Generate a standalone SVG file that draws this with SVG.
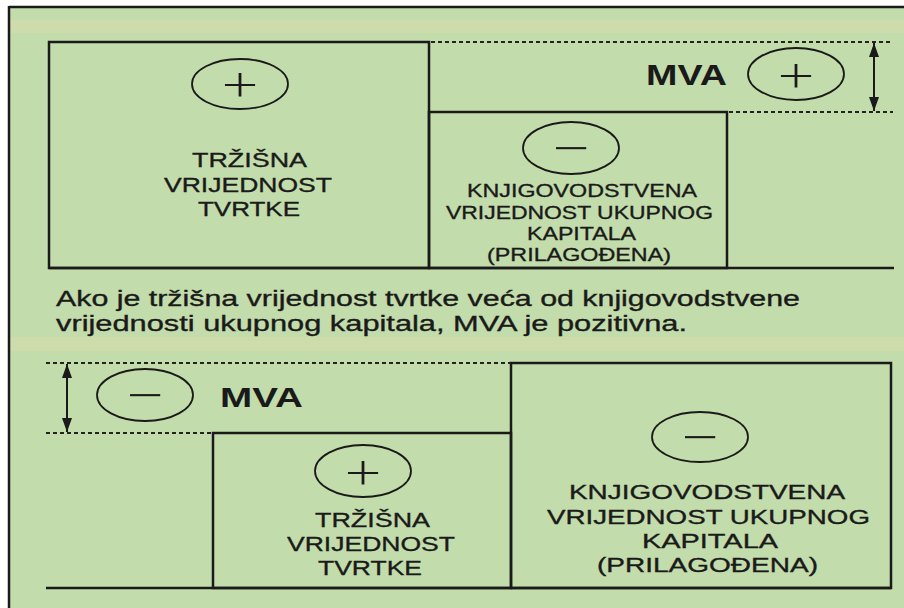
<svg xmlns="http://www.w3.org/2000/svg" width="904" height="608" viewBox="0 0 904 608">
<defs>
<marker id="ah" viewBox="0 0 14 10" refX="14" refY="5" markerWidth="7" markerHeight="5" markerUnits="strokeWidth" orient="auto-start-reverse">
<path d="M0,0 L14,5 L0,10 Z" fill="#1a1a1a"/>
</marker>
</defs>
<style>
.box{fill:none;stroke:#1a1a1a;stroke-width:2.5}
.base{stroke:#1a1a1a;stroke-width:2.5}
.dot{stroke:#222;stroke-width:2;stroke-dasharray:4 3}
.arr{stroke:#1a1a1a;stroke-width:2;marker-start:url(#ah);marker-end:url(#ah)}
.ell{fill:none;stroke:#1a1a1a;stroke-width:1.8}
.lbl{font-family:"Liberation Sans",Arial,sans-serif;fill:#1a1a1a;stroke:#1a1a1a;stroke-width:0.35}
.sign{font-family:"Open Sans","Noto Sans",sans-serif;font-weight:300;font-size:50px;fill:#1a1a1a;text-anchor:middle}
.mva{font-family:"Liberation Sans",Arial,sans-serif;font-weight:bold;fill:#1a1a1a}
</style>
<rect x="9" y="7" width="895" height="601" fill="#c3dcab"/>
<rect x="10" y="20" width="894" height="13" fill="#cedbaa"/>
<rect x="10" y="337" width="894" height="14" fill="#cedbaa"/>
<line x1="9" y1="7" x2="904" y2="7" stroke="#1a1a1a" stroke-width="2.5"/>
<line x1="9" y1="6" x2="9" y2="608" stroke="#1a1a1a" stroke-width="2.5"/>

<g id="connectors">
<line class="dot" x1="431" y1="42" x2="893" y2="42"/>
<line class="dot" x1="729" y1="112" x2="893" y2="112"/>
<line class="arr" x1="874" y1="43" x2="874" y2="111"/>
<line class="dot" x1="46" y1="363" x2="510" y2="363"/>
<line class="dot" x1="46" y1="433" x2="212" y2="433"/>
<line class="arr" x1="67" y1="364" x2="67" y2="432"/>
<line class="base" x1="49" y1="268" x2="894" y2="268"/>
<line class="base" x1="46" y1="588" x2="891" y2="588"/>
</g>

<g id="trzisna-top">
<rect class="box" x="49" y="42" width="380" height="226"/>
<ellipse class="ell" cx="240" cy="84" rx="48" ry="25"/>
<text class="sign" transform="translate(240,103) scale(1.3,1)">+</text>
<text class="lbl" font-size="21" x="192" y="167" textLength="115" lengthAdjust="spacingAndGlyphs">TRŽIŠNA</text>
<text class="lbl" font-size="21" x="164" y="192" textLength="168" lengthAdjust="spacingAndGlyphs">VRIJEDNOST</text>
<text class="lbl" font-size="21" x="198" y="216" textLength="102" lengthAdjust="spacingAndGlyphs">TVRTKE</text>
</g>

<g id="knjigovodstvena-top">
<rect class="box" x="429" y="112" width="298" height="156"/>
<ellipse class="ell" cx="571" cy="148" rx="48" ry="26"/>
<text class="sign" transform="translate(571,166) scale(1.3,1)">−</text>
<text class="lbl" font-size="18.8" x="467" y="197" textLength="230" lengthAdjust="spacingAndGlyphs">KNJIGOVODSTVENA</text>
<text class="lbl" font-size="18.8" x="446" y="219" textLength="267" lengthAdjust="spacingAndGlyphs">VRIJEDNOST UKUPNOG</text>
<text class="lbl" font-size="18.8" x="527" y="240" textLength="109" lengthAdjust="spacingAndGlyphs">KAPITALA</text>
<text class="lbl" font-size="18.8" x="487" y="261" textLength="184" lengthAdjust="spacingAndGlyphs">(PRILAGOĐENA)</text>
</g>

<g id="mva-top">
<text class="mva" font-size="30" x="646" y="85" textLength="81" lengthAdjust="spacingAndGlyphs">MVA</text>
<ellipse class="ell" cx="796" cy="74" rx="48" ry="26"/>
<text class="sign" transform="translate(796,94) scale(1.3,1)">+</text>
</g>

<g id="caption">
<text class="lbl" font-size="22" x="56" y="306" textLength="744" lengthAdjust="spacingAndGlyphs">Ako je tržišna vrijednost tvrtke veća od knjigovodstvene</text>
<text class="lbl" font-size="22" x="56" y="331" textLength="631" lengthAdjust="spacingAndGlyphs">vrijednosti ukupnog kapitala, MVA je pozitivna.</text>
</g>

<g id="mva-bottom">
<ellipse class="ell" cx="145" cy="395" rx="48" ry="26"/>
<text class="sign" transform="translate(145,413) scale(1.3,1)">−</text>
<text class="mva" font-size="28" x="220" y="407" textLength="83" lengthAdjust="spacingAndGlyphs">MVA</text>
</g>

<g id="trzisna-bottom">
<rect class="box" x="213" y="433" width="298" height="155"/>
<ellipse class="ell" cx="363" cy="471" rx="48" ry="26"/>
<text class="sign" transform="translate(363,491) scale(1.3,1)">+</text>
<text class="lbl" font-size="21" x="315" y="527" textLength="115" lengthAdjust="spacingAndGlyphs">TRŽIŠNA</text>
<text class="lbl" font-size="21" x="287" y="551" textLength="168" lengthAdjust="spacingAndGlyphs">VRIJEDNOST</text>
<text class="lbl" font-size="21" x="318" y="575" textLength="104" lengthAdjust="spacingAndGlyphs">TVRTKE</text>
</g>

<g id="knjigovodstvena-bottom">
<rect class="box" x="511" y="363" width="380" height="225"/>
<ellipse class="ell" cx="700" cy="437" rx="48" ry="25"/>
<text class="sign" transform="translate(700,455) scale(1.3,1)">−</text>
<text class="lbl" font-size="21" x="569" y="499" textLength="276" lengthAdjust="spacingAndGlyphs">KNJIGOVODSTVENA</text>
<text class="lbl" font-size="21" x="547" y="524" textLength="323" lengthAdjust="spacingAndGlyphs">VRIJEDNOST UKUPNOG</text>
<text class="lbl" font-size="21" x="642" y="548" textLength="136" lengthAdjust="spacingAndGlyphs">KAPITALA</text>
<text class="lbl" font-size="21" x="597" y="572" textLength="221" lengthAdjust="spacingAndGlyphs">(PRILAGOĐENA)</text>
</g>
</svg>
